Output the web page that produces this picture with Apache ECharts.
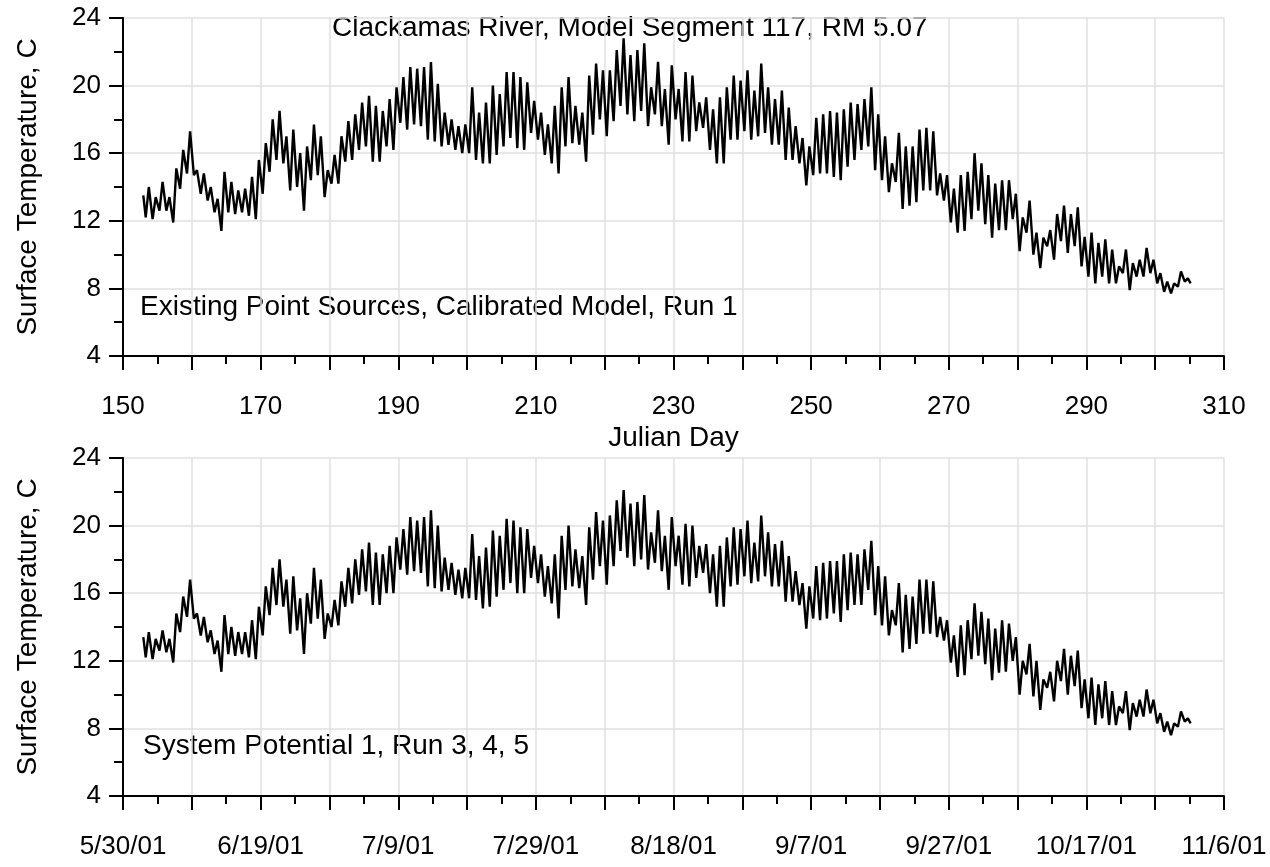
<!DOCTYPE html>
<html><head><meta charset="utf-8">
<script src="https://cdn.jsdelivr.net/npm/echarts@6/dist/echarts.min.js"></script>
<style>html,body{margin:0;padding:0;background:#fff}#c{width:1270px;height:867px}</style>
</head><body><div id="c"></div>
<script>
// ---- data (daily minimum / maximum water temperature, deg C) ----
const firstDay = 153;           // Julian day of first daily cycle
const topStart = 13.5, topEnd = 8.3;
const botStart = 13.4, botEnd = 8.3;
const startDay = 152.95, endDay = 305.15;

const topMin = [
 12.2,12.1,12.6,12.6,11.9,13.9,14.8,14.7,13.6,13.2,
 12.5,11.4,12.5,12.4,12.5,12.3,12.1,13.6,14.9,15.6,
 15.4,13.8,14.0,12.6,14.4,14.7,13.4,14.2,14.2,15.5,
 15.6,16.2,16.4,15.5,15.5,16.4,16.2,17.8,17.4,17.7,
 17.6,16.8,16.7,16.4,16.5,16.2,16.0,16.0,15.6,15.4,
 15.4,15.9,16.4,16.9,16.3,16.2,17.2,16.8,15.9,15.4,
 14.8,16.4,16.6,16.5,15.5,17.1,18.0,17.0,17.9,18.8,
 18.3,17.9,18.5,17.6,18.3,17.6,16.5,18.0,16.7,16.7,
 17.3,17.5,16.2,15.4,15.4,16.8,16.8,17.3,16.8,17.0,
 17.2,16.5,16.5,15.6,15.6,15.4,14.1,14.7,14.8,14.8,
 14.6,14.4,15.2,15.6,16.2,16.4,15.0,14.4,13.7,14.3,
 12.7,12.9,13.1,13.8,13.8,13.5,13.2,11.9,11.3,11.4,
 12.1,12.6,11.8,11.0,11.45,11.45,12.1,10.2,11.3,10.0,
 9.2,10.5,9.7,10.8,10.1,10.5,9.3,8.7,8.3,8.7,
 8.3,8.3,8.9,7.9,8.7,8.7,8.9,8.3,7.8,7.7,
 8.1,8.4];
const topMax = [
 14.0,13.4,14.3,13.4,15.1,16.2,17.3,15.0,14.8,14.0,
 13.3,14.9,14.3,13.8,13.9,14.6,15.6,16.6,18.0,18.5,
 17.0,17.4,16.0,16.4,17.7,17.0,15.0,15.9,17.0,17.9,
 18.3,19.0,19.4,18.8,18.5,19.2,19.9,20.5,21.1,21.0,
 21.1,21.4,20.1,18.4,18.0,17.6,17.7,19.9,18.4,19.0,
 20.0,19.5,20.8,20.8,20.5,20.2,19.1,18.4,17.7,18.8,
 19.9,20.5,18.8,18.4,20.6,21.3,20.9,20.9,22.1,22.8,
 21.8,22.1,22.5,19.9,21.4,19.8,21.2,19.8,20.8,20.6,
 19.0,19.3,18.6,19.3,19.9,20.6,20.3,20.9,19.7,21.3,
 19.9,19.2,19.7,18.7,17.6,16.9,16.4,18.1,18.3,18.5,
 18.4,18.6,19.0,18.9,19.2,19.9,18.3,17.0,15.4,17.2,
 16.4,16.4,17.4,17.5,17.3,14.8,14.7,13.9,14.7,14.9,
 16.0,15.4,14.7,14.2,14.4,14.4,13.6,12.2,13.2,11.3,
 11.0,11.45,12.4,12.9,12.4,12.8,11.05,11.3,10.7,10.9,
 10.3,9.3,10.3,9.5,9.7,10.4,9.7,8.9,8.4,8.3,
 9.0,8.6];
const botMin = [
 12.2,12.1,12.6,12.5,11.9,13.7,14.6,14.5,13.5,13.1,
 12.4,11.35,12.4,12.3,12.4,12.2,12.1,13.5,14.7,15.3,
 15.2,13.6,13.8,12.4,14.2,14.5,13.3,14.0,14.1,15.2,
 15.4,15.9,16.1,15.3,15.3,16.0,16.0,17.4,17.1,17.3,
 17.2,16.4,16.3,16.1,16.2,15.9,15.7,15.7,15.6,15.1,
 15.2,15.8,16.2,16.6,16.0,16.0,16.9,16.6,15.8,15.4,
 14.5,16.2,16.4,16.3,15.3,16.8,17.6,16.5,17.6,18.5,
 18.1,17.6,18.0,17.4,17.8,17.3,16.2,17.6,16.5,16.4,
 16.9,17.2,16.0,15.2,15.2,16.4,16.5,17.0,16.6,16.7,
 17.0,16.4,16.4,15.5,15.5,15.3,13.9,14.5,14.4,14.5,
 14.8,14.3,15.0,15.3,15.3,16.2,14.7,14.1,13.5,14.1,
 12.5,12.7,13.0,13.6,13.6,13.4,13.2,11.9,11.05,11.15,
 12.1,12.3,11.8,10.85,11.3,11.35,12.0,10.0,11.2,9.9,
 9.1,10.4,9.6,10.8,10.0,10.5,9.2,8.6,8.2,8.6,
 8.2,8.2,8.9,7.9,8.7,8.7,8.9,8.3,7.8,7.6,
 8.1,8.4];
const botMax = [
 13.7,13.3,13.8,13.3,14.8,15.8,16.8,14.8,14.6,13.8,
 13.2,14.7,14.0,13.7,13.7,14.4,15.2,16.4,17.5,18.0,
 16.8,17.0,15.7,16.0,17.5,16.8,14.8,15.6,16.7,17.5,
 18.0,18.6,19.0,18.4,18.3,18.8,19.3,19.8,20.5,20.3,
 20.5,20.9,20.0,18.1,17.8,17.4,17.5,19.5,18.2,18.7,
 19.7,19.4,20.4,20.3,19.9,19.8,18.8,18.3,17.6,18.3,
 19.4,20.0,18.6,18.2,19.9,20.8,20.3,20.6,21.5,22.1,
 21.3,21.4,21.8,19.6,20.9,19.4,20.5,19.4,20.1,20.0,
 18.8,18.9,18.3,18.8,19.3,19.9,19.8,20.3,19.0,20.6,
 19.6,18.9,19.1,18.2,17.3,16.6,16.4,17.6,17.8,17.9,
 17.9,18.3,18.4,18.3,18.6,19.1,17.6,17.0,15.0,16.6,
 15.9,15.8,16.8,16.8,16.7,14.6,14.4,13.5,14.1,14.4,
 15.4,14.9,14.5,13.9,14.4,14.2,13.4,12.0,13.0,12.0,
 10.9,11.35,12.0,12.7,12.3,12.6,10.9,11.0,10.6,10.8,
 10.2,9.3,10.2,9.5,9.7,10.3,9.7,8.9,8.4,8.3,
 9.0,8.6];

const yTicks = [4, 8, 12, 16, 20, 24];
const topXLabels = [150, 170, 190, 210, 230, 250, 270, 290, 310];
const botXLabels = ['5/30/01','6/19/01','7/9/01','7/29/01','8/18/01','9/7/01','9/27/01','10/17/01','11/6/01'];
const titleText = 'Clackamas River, Model Segment 117, RM 5.07';
const topNote = 'Existing Point Sources, Calibrated Model, Run 1';
const botNote = 'System Potential 1, Run 3, 4, 5';

// ---- build series: daily minimum in the morning, maximum in the afternoon ----
function buildSeries(mins, maxs, startV, endV) {
  const out = [[startDay, startV]];
  for (let i = 0; i < mins.length; i++) {
    const d = firstDay + i;
    out.push([d + 0.3, mins[i]]);
    out.push([d + 0.75, maxs[i]]);
  }
  out.push([endDay, endV]);
  return out;
}

const FONT = '"Liberation Sans", Arial, Helvetica, sans-serif';
const BLACK = '#000';

function xAxisCfg(gridIndex, formatter, name) {
  return {
    type: 'value', gridIndex, min: 150, max: 310, interval: 10,
    axisLine: { show: true, onZero: false, lineStyle: { color: BLACK, width: 2 } },
    axisTick: { show: true, length: 14, lineStyle: { color: BLACK, width: 2 } },
    minorTick: { show: true, splitNumber: 2, length: 8, lineStyle: { color: BLACK, width: 2 } },
    splitLine: { show: true, lineStyle: { color: '#e0e0e0', width: 1.5 } },
    minorSplitLine: { show: false },
    axisLabel: { show: true, margin: 38, fontSize: 26, color: BLACK, fontFamily: FONT,
                 formatter, showMinLabel: true, showMaxLabel: true },
    name: name || '', nameLocation: 'middle', nameGap: 68,
    nameTextStyle: { fontSize: 28, color: BLACK, fontFamily: FONT }
  };
}
function yAxisCfg(gridIndex) {
  return {
    type: 'value', gridIndex, min: yTicks[0], max: yTicks[yTicks.length - 1], interval: 4,
    axisLine: { show: true, onZero: false, lineStyle: { color: BLACK, width: 2 } },
    axisTick: { show: true, length: 14, lineStyle: { color: BLACK, width: 2 } },
    minorTick: { show: true, splitNumber: 2, length: 9, lineStyle: { color: BLACK, width: 2 } },
    splitLine: { show: true, lineStyle: { color: '#e0e0e0', width: 1.5 } },
    axisLabel: { show: true, margin: 22, fontSize: 26, color: BLACK, fontFamily: FONT,
                 formatter: v => yTicks.includes(v) ? String(v) : '' },
    name: 'Surface Temperature, C', nameLocation: 'middle', nameGap: 81, nameRotate: 90,
    nameTextStyle: { fontSize: 28, color: BLACK, fontFamily: FONT }
  };
}

const chart = echarts.init(document.getElementById('c'), null, { renderer: 'canvas' });
chart.setOption({
  animation: false,
  backgroundColor: '#fff',
  grid: [
    { left: 123, right: 46, top: 18, height: 338 },
    { left: 123, right: 46, top: 458, height: 338 }
  ],
  xAxis: [
    xAxisCfg(0, v => topXLabels.includes(v) ? String(v) : '', 'Julian Day'),
    xAxisCfg(1, v => { const k = topXLabels.indexOf(v); return k >= 0 ? botXLabels[k] : ''; })
  ],
  yAxis: [yAxisCfg(0), yAxisCfg(1)],
  series: [
    { type: 'line', xAxisIndex: 0, yAxisIndex: 0, data: buildSeries(topMin, topMax, topStart, topEnd),
      showSymbol: false, symbol: 'none', silent: true, lineStyle: { color: BLACK, width: 2.4 } },
    { type: 'line', xAxisIndex: 1, yAxisIndex: 1, data: buildSeries(botMin, botMax, botStart, botEnd),
      showSymbol: false, symbol: 'none', silent: true, lineStyle: { color: BLACK, width: 2.4 } }
  ],
  graphic: [
    { type: 'text', x: 332, y: 28, silent: true,
      style: { text: titleText, fontSize: 28, fontFamily: FONT, fill: BLACK, align: 'left', verticalAlign: 'middle' } },
    { type: 'text', x: 140, y: 307, silent: true,
      style: { text: topNote, fontSize: 28, fontFamily: FONT, fill: BLACK, align: 'left', verticalAlign: 'middle' } },
    { type: 'text', x: 143, y: 746, silent: true,
      style: { text: botNote, fontSize: 28, fontFamily: FONT, fill: BLACK, align: 'left', verticalAlign: 'middle' } }
  ]
});
</script>
</body></html>
